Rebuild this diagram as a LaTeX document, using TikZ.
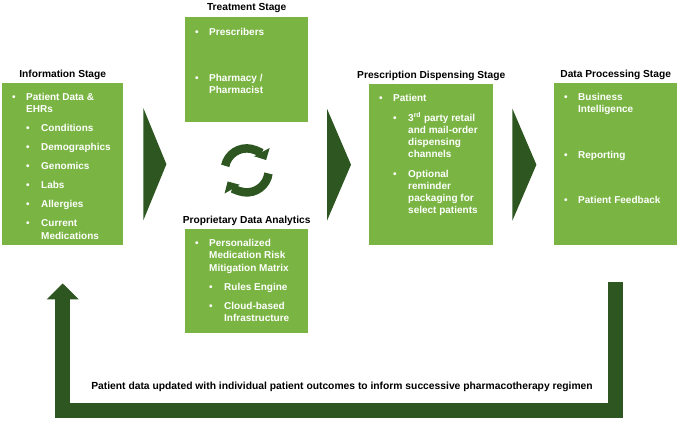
\documentclass[tikz,border=0pt]{standalone}
\usepackage{fontspec}
\setmainfont{Liberation Sans}
\usepackage{enumitem}
\definecolor{stagegreen}{RGB}{122, 181, 67}
\definecolor{flowgreen}{RGB}{45, 86, 32}
\usepackage{tikz}
\usetikzlibrary{arrows.meta, positioning, calc}

\setlist[itemize,1]{label=\textbullet, align=left, leftmargin=24pt, labelwidth=14pt, labelsep=0pt, itemindent=0pt, topsep=0pt, partopsep=0pt, parsep=0pt, itemsep=6.6pt}
\setlist[itemize,2]{label=\textbullet, align=left, leftmargin=15pt, labelwidth=15pt, labelsep=0pt, itemindent=0pt, topsep=6.6pt, partopsep=0pt, parsep=0pt, itemsep=6.6pt}

\newcommand{\stagecontent}[3]{%
  \begin{minipage}[t][#2][t]{#1}\raggedright\vspace*{10pt}#3\end{minipage}}

\begin{document}
\begin{tikzpicture}[x=1pt, y=-1pt,
  stagebox/.style={fill=stagegreen, text=white, inner sep=0pt, anchor=north west, font=\fontsize{10}{12.4}\selectfont\bfseries},
  stagelabel/.style={inner sep=0pt, anchor=base, font=\fontsize{10.2}{12}\selectfont\bfseries},
  chevron/.style={fill=flowgreen},
  cyclearrow/.style={draw=flowgreen, line width=8.5pt, -{Triangle[width=17pt, length=9pt]}},
  feedback/.style={draw=flowgreen, line width=15pt, -{Triangle[width=31pt, length=16pt]}}]

  \useasboundingbox (0,0) rectangle (684,420);

  % Information stage
  \node[stagebox] (info) at (2,83) {\stagecontent{121pt}{162pt}{%
    \begin{itemize}
      \item Patient Data \&\\EHRs
      \begin{itemize}
        \item Conditions
        \item Demographics
        \item Genomics
        \item Labs
        \item Allergies
        \item Current\\Medications
      \end{itemize}
    \end{itemize}}};
  \node[stagelabel] (infolabel) at ($(info.north)+(0,-6)$) {Information Stage};

  % Treatment stage
  \node[stagebox] (treat) at (185,17) {\stagecontent{123pt}{105pt}{%
    \vspace*{1.5pt}
    \begin{itemize}[itemsep=33pt]
      \item Prescribers
      \item Pharmacy /\\Pharmacist
    \end{itemize}}};
  \node[stagelabel] (treatlabel) at ($(treat.north)+(0,-6)$) {Treatment Stage};

  % Cycle between treatment and analytics
  \coordinate (cyc) at ($(treat.south)+(0,48)$);
  \draw[cyclearrow] ($(cyc)+(-168:22)$) arc[start angle=-168, end angle=-28, radius=22];
  \draw[cyclearrow] ($(cyc)+(8:22)$) arc[start angle=8, end angle=150, radius=22];

  % Proprietary data analytics
  \node[stagebox] (prop) at (185,229) {\stagecontent{123pt}{104pt}{%
    \begin{itemize}
      \item Personalized\\Medication Risk\\Mitigation Matrix
      \begin{itemize}
        \item Rules Engine
        \item Cloud-based\\Infrastructure
      \end{itemize}
    \end{itemize}}};
  \node[stagelabel] (proplabel) at ($(prop.north)+(0,-6)$) {Proprietary Data Analytics};

  % Prescription dispensing stage
  \node[stagebox, font=\fontsize{10}{12}\selectfont\bfseries] (presc) at (369,84) {\stagecontent{124pt}{161pt}{%
    \begin{itemize}
      \item Patient
      \begin{itemize}[topsep=8pt, itemsep=8pt]
        \item 3\textsuperscript{rd} party retail\\and mail-order\\dispensing\\channels
        \item Optional\\reminder\\packaging for\\select patients
      \end{itemize}
    \end{itemize}}};
  \node[stagelabel] (presclabel) at ($(presc.north)+(0,-6)$) {Prescription Dispensing Stage};

  % Data processing stage
  \node[stagebox] (data) at (554,83) {\stagecontent{123pt}{162pt}{%
    \begin{itemize}[itemsep=33pt]
      \item Business\\Intelligence
      \item Reporting
      \item Patient Feedback
    \end{itemize}}};
  \node[stagelabel] (datalabel) at ($(data.north)+(0,-6)$) {Data Processing Stage};

  % Flow chevrons
  \fill[chevron] ($(info.east)+(20,-56)$) -- ($(info.east)+(43,0)$) -- ($(info.east)+(20,56)$) -- cycle;
  \fill[chevron] ($(presc.west)+(-42,-56)$) -- ($(presc.west)+(-18,0)$) -- ($(presc.west)+(-42,56)$) -- cycle;
  \fill[chevron] ($(presc.east)+(19,-56)$) -- ($(presc.east)+(43,0)$) -- ($(presc.east)+(19,56)$) -- cycle;

  % Feedback loop
  \node[inner sep=0pt, font=\fontsize{10.3}{12}\selectfont\bfseries] (fbtext) at (342,387) {Patient data updated with individual patient outcomes to inform successive pharmacotherapy regimen};
  \coordinate (fbstart) at ($(data.south)+(0,37)$);
  \coordinate (fbend) at ($(info.south)+(0,38)$);
  \coordinate (fblow) at ($(fbtext)+(0,23.5)$);
  \draw[feedback] (fbstart) -- (fbstart |- fblow) -- (fbend |- fblow) -- (fbend);
\end{tikzpicture}
\end{document}
